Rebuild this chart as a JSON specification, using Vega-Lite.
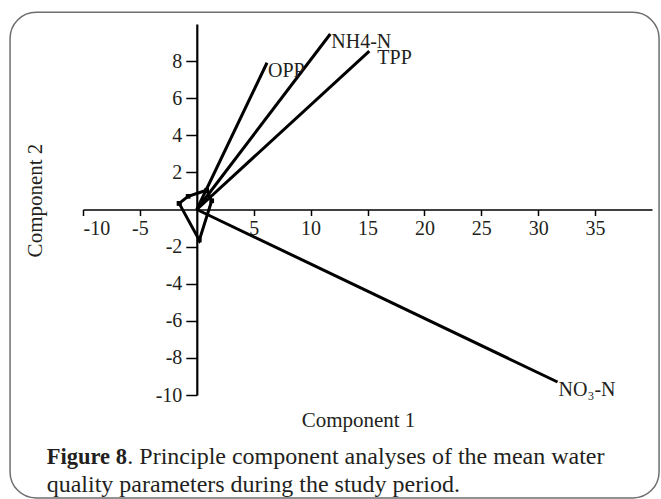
{
  "$schema": "https://vega.github.io/schema/vega-lite/v6.json",
  "width": 569,
  "height": 371,
  "autosize": {"type": "none"},
  "padding": {"left": 83, "top": 24, "right": 9, "bottom": 104},
  "background": "white",
  "config": {"view": {"stroke": null}, "font": "Liberation Serif"},
  "resolve": {"axis": {"x": "independent", "y": "independent"}},
  "datasets": {
    "loadings": [
      {"variable": "NH4-N", "pc1": 11.73, "pc2": 9.46},
      {"variable": "TPP", "pc1": 15.16, "pc2": 8.54},
      {"variable": "OPP", "pc1": 6.17, "pc2": 7.91},
      {"variable": "NO₃-N", "pc1": 31.7, "pc2": -9.3}
    ],
    "scores": [
      {"i": 1, "pc1": -1.55, "pc2": 0.33},
      {"i": 2, "pc1": -0.76, "pc2": 0.71},
      {"i": 3, "pc1": 0.87, "pc2": 1.04},
      {"i": 4, "pc1": 1.31, "pc2": 0.47},
      {"i": 5, "pc1": 0.22, "pc2": -1.65},
      {"i": 6, "pc1": -1.55, "pc2": 0.33}
    ],
    "blank": [{}]
  },
  "layer": [
    {
      "data": {"name": "blank"},
      "mark": {"type": "rect", "filled": false, "color": "#6d6e71", "strokeWidth": 1.5, "cornerRadius": 26},
      "encoding": {
        "x": {"datum": -16.41, "type": "quantitative", "scale": {"domain": [-10, 40], "nice": false, "zero": false}, "axis": null},
        "x2": {"datum": 40.62},
        "y": {"datum": 10.63, "type": "quantitative", "scale": {"domain": [-10, 10], "nice": false, "zero": false}, "axis": null},
        "y2": {"datum": -15.55}
      }
    },
    {
      "data": {"name": "loadings"},
      "mark": {"type": "rule", "color": "black", "strokeWidth": 3},
      "encoding": {
        "x": {
          "field": "pc1", "type": "quantitative",
          "scale": {"domain": [-10, 40], "nice": false, "zero": false},
          "axis": {
            "orient": "bottom", "offset": -185.5,
            "values": [-10, -5, 5, 10, 15, 20, 25, 30, 35],
            "labelExpr": "'' + datum.value",
            "grid": false,
            "domainColor": "black", "domainWidth": 1.5,
            "tickColor": "black", "tickWidth": 1.5, "tickSize": 6,
            "labelFont": "Liberation Serif", "labelFontSize": 20, "labelColor": "#231f20", "labelPadding": 3,
            "title": "Component 1", "titleFont": "Liberation Serif", "titleFontSize": 21, "titleFontWeight": "normal", "titleColor": "#231f20",
            "titleX": 275, "titleY": 210.5, "titleBaseline": "middle", "titleAlign": "center"
          }
        },
        "y": {
          "field": "pc2", "type": "quantitative",
          "scale": {"domain": [-10, 10], "nice": false, "zero": false},
          "axis": {
            "orient": "left", "offset": -113.8,
            "values": [-10, -8, -6, -4, -2, 2, 4, 6, 8],
            "labelExpr": "'' + datum.value",
            "grid": false,
            "domainColor": "black", "domainWidth": 2.2,
            "tickColor": "black", "tickWidth": 1.5, "tickSize": 11,
            "labelFont": "Liberation Serif", "labelFontSize": 20, "labelColor": "#231f20", "labelPadding": 4,
            "title": "Component 2", "titleFont": "Liberation Serif", "titleFontSize": 21, "titleFontWeight": "normal", "titleColor": "#231f20",
            "titleAngle": -90, "titleX": -161, "titleY": 176, "titleBaseline": "middle", "titleAlign": "center"
          }
        },
        "x2": {"datum": 0},
        "y2": {"datum": 0}
      }
    },
    {
      "data": {"name": "scores"},
      "mark": {"type": "line", "color": "black", "strokeWidth": 3, "point": {"filled": true, "shape": "square", "size": 22, "color": "black"}},
      "encoding": {
        "x": {"field": "pc1", "type": "quantitative", "scale": {"domain": [-10, 40], "nice": false, "zero": false}, "axis": null},
        "y": {"field": "pc2", "type": "quantitative", "scale": {"domain": [-10, 10], "nice": false, "zero": false}, "axis": null},
        "order": {"field": "i", "type": "quantitative"}
      }
    },
    {
      "data": {"name": "loadings"},
      "transform": [{"filter": "datum.variable !== 'TPP'"}],
      "mark": {"type": "text", "align": "left", "baseline": "middle", "dx": 1, "dy": 8, "fontSize": 20, "font": "Liberation Serif", "color": "#231f20"},
      "encoding": {
        "x": {"field": "pc1", "type": "quantitative", "scale": {"domain": [-10, 40], "nice": false, "zero": false}, "axis": null},
        "y": {"field": "pc2", "type": "quantitative", "scale": {"domain": [-10, 10], "nice": false, "zero": false}, "axis": null},
        "text": {"field": "variable"}
      }
    },
    {
      "data": {"name": "loadings"},
      "transform": [{"filter": "datum.variable === 'TPP'"}],
      "mark": {"type": "text", "align": "left", "baseline": "middle", "dx": 8, "dy": 7, "fontSize": 20, "font": "Liberation Serif", "color": "#231f20"},
      "encoding": {
        "x": {"field": "pc1", "type": "quantitative", "scale": {"domain": [-10, 40], "nice": false, "zero": false}, "axis": null},
        "y": {"field": "pc2", "type": "quantitative", "scale": {"domain": [-10, 10], "nice": false, "zero": false}, "axis": null},
        "text": {"field": "variable"}
      }
    },
    {
      "data": {"name": "blank"},
      "mark": {"type": "text", "align": "left", "baseline": "middle", "fontSize": 22.5, "fontWeight": "bold", "font": "Liberation Serif", "color": "#231f20"},
      "encoding": {
        "x": {"datum": -13.19, "type": "quantitative", "scale": {"domain": [-10, 40], "nice": false, "zero": false}, "axis": null},
        "y": {"datum": -13.36, "type": "quantitative", "scale": {"domain": [-10, 10], "nice": false, "zero": false}, "axis": null},
        "text": {"value": "Figure 8"}
      }
    },
    {
      "data": {"name": "blank"},
      "mark": {"type": "text", "align": "left", "baseline": "middle", "fontSize": 24, "font": "Liberation Serif", "color": "#231f20"},
      "encoding": {
        "x": {"datum": -6.107, "type": "quantitative", "scale": {"domain": [-10, 40], "nice": false, "zero": false}, "axis": null},
        "y": {"datum": -13.36, "type": "quantitative", "scale": {"domain": [-10, 10], "nice": false, "zero": false}, "axis": null},
        "text": {"value": ". Principle component analyses of the mean water"}
      }
    },
    {
      "data": {"name": "blank"},
      "mark": {"type": "text", "align": "left", "baseline": "middle", "fontSize": 24, "font": "Liberation Serif", "color": "#231f20"},
      "encoding": {
        "x": {"datum": -13.19, "type": "quantitative", "scale": {"domain": [-10, 40], "nice": false, "zero": false}, "axis": null},
        "y": {"datum": -14.85, "type": "quantitative", "scale": {"domain": [-10, 10], "nice": false, "zero": false}, "axis": null},
        "text": {"value": "quality parameters during the study period."}
      }
    }
  ]
}
